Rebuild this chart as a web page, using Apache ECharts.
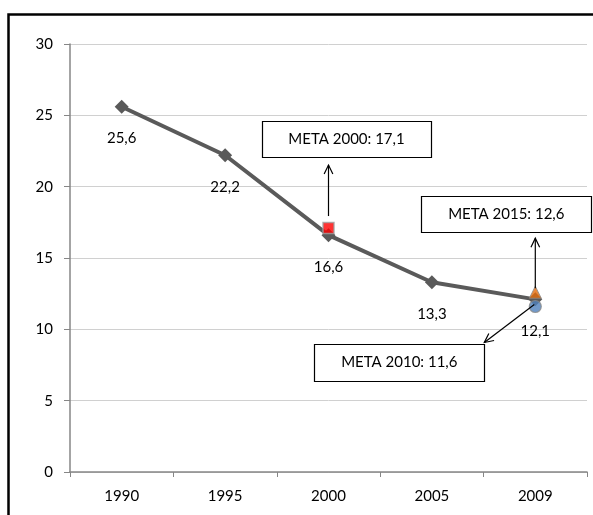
<!DOCTYPE html>
<html>
<head>
<meta charset="utf-8">
<script src="https://cdn.jsdelivr.net/npm/echarts@6/dist/echarts.min.js"></script>
<style>html,body{margin:0;padding:0;background:#fff;}#c{width:593px;height:515px;}</style>
</head>
<body>
<div id="c"></div>
<script>
const years = ['1990', '1995', '2000', '2005', '2009'];
const values = [25.6, 22.2, 16.6, 13.3, 12.1];
const yTicks = [0, 5, 10, 15, 20, 25, 30];
const meta2000 = ['2000', 17.1];
const meta2010 = ['2009', 11.6];
const meta2015 = ['2009', 12.6];
const metaLabels = ['META 2000: 17,1', 'META 2010: 11,6', 'META 2015: 12,6'];

const FONT = 'Lato';
const fmt = v => String(v).replace('.', ',');

const chart = echarts.init(document.getElementById('c'));
chart.setOption({
  animation: false,
  backgroundColor: '#fff',
  textStyle: { fontFamily: FONT },
  grid: { left: 70, right: 6, top: 44, bottom: 43 },
  xAxis: {
    type: 'category', data: years, boundaryGap: true,
    axisLine: { lineStyle: { color: '#868686', width: 1.5 } },
    axisTick: { show: true, length: 5, lineStyle: { color: '#868686' } },
    axisLabel: { color: '#000', fontSize: 15, fontFamily: FONT, margin: 17 }
  },
  yAxis: {
    type: 'value', min: yTicks[0], max: yTicks[yTicks.length - 1], interval: 5,
    axisLine: { show: true, lineStyle: { color: '#868686', width: 1.5 } },
    axisTick: { show: true, length: 6, lineStyle: { color: '#868686' } },
    splitLine: { lineStyle: { color: '#d0d0d0', width: 1 } },
    axisLabel: { color: '#000', fontSize: 15, fontFamily: FONT, margin: 17 }
  },
  series: [
    {
      type: 'line', data: values, symbol: 'diamond', symbolSize: 14,
      lineStyle: { color: '#5a5a5a', width: 4 },
      itemStyle: { color: '#5a5a5a' },
      label: { show: true, position: 'bottom', distance: 17, color: '#000', fontSize: 15, fontFamily: FONT,
        formatter: p => fmt(p.value) },
      z: 2
    },
    {
      type: 'scatter', data: [meta2000], symbol: 'rect', symbolSize: 11,
      itemStyle: { color: '#ff0000', borderColor: '#a0a0a0', borderWidth: 1.5 }, z: 3
    },
    {
      type: 'scatter', data: [meta2010], symbol: 'circle', symbolSize: 12,
      itemStyle: { color: '#4f81bd', borderColor: '#8a8a8a', borderWidth: 1.2 }, z: 3
    },
    {
      type: 'scatter', data: [meta2015], symbol: 'triangle', symbolSize: 12,
      itemStyle: { color: '#e46c0a', borderColor: '#8a8a8a', borderWidth: 1 }, z: 4
    }
  ]
});

function px(pt) { return chart.convertToPixel({ gridIndex: 0 }, pt); }
function box(cx, cy, w, h, text) {
  return [
    { type: 'rect', shape: { x: Math.round(cx - w / 2) + 0.5, y: Math.round(cy - h / 2) + 0.5, width: w, height: h },
      style: { fill: '#fff', stroke: '#000', lineWidth: 1.2 }, z: 10 },
    { type: 'text', x: cx, y: cy, style: { text: text, fill: '#000', font: '15px ' + FONT, align: 'center', verticalAlign: 'middle' }, z: 11 }
  ];
}
function arrow(x1, y1, x2, y2) {
  const a = Math.atan2(y2 - y1, x2 - x1), L = 10, s = 0.45;
  return [
    { type: 'line', shape: { x1, y1, x2, y2 }, style: { stroke: '#000', lineWidth: 1.2 }, z: 10 },
    { type: 'polyline', shape: { points: [
      [x2 - L * Math.cos(a - s), y2 - L * Math.sin(a - s)], [x2, y2],
      [x2 - L * Math.cos(a + s), y2 - L * Math.sin(a + s)]] },
      style: { stroke: '#000', lineWidth: 1.2, fill: null }, z: 10 }
  ];
}
const p2000 = px(meta2000), p2010 = px(meta2010), p2015 = px(meta2015);
const els = [
  { type: 'rect', shape: { x: 8.5, y: 14.5, width: 700, height: 700 }, style: { fill: null, stroke: '#000', lineWidth: 2.5 }, z: 20 }
];
els.push(...box(p2000[0] + 18, p2000[1] - 89, 169, 36, metaLabels[0]));
els.push(...arrow(p2000[0], p2000[1] - 12, p2000[0], p2000[1] - 63));
els.push(...box(p2015[0] - 29, p2015[1] - 78, 170, 36, metaLabels[2]));
els.push(...arrow(p2015[0], p2015[1] - 4, p2015[0], p2015[1] - 54));
els.push(...box(p2010[0] - 136, p2010[1] + 56, 170, 37, metaLabels[1]));
els.push(...arrow(p2010[0] - 1, p2010[1] - 2, p2010[0] - 51, p2010[1] + 36));
chart.setOption({ graphic: { elements: els } });
</script>
</body>
</html>
